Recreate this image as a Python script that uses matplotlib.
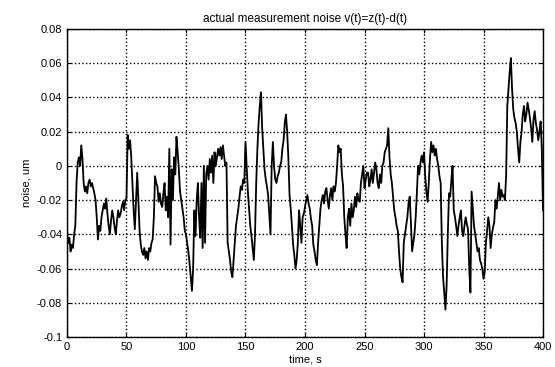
import numpy as np
import matplotlib.pyplot as plt

plt.rcParams['font.family'] = ['Liberation Sans', 'DejaVu Sans']

# noise samples, one per second from 0 to 400 s
noise = [
    -0.038, -0.045, -0.042, -0.050, -0.046, -0.048, -0.040, -0.035, -0.010, 0.002,
    0.005, 0.000, 0.012, 0.004, -0.010, -0.015, -0.012, -0.016, -0.010, -0.008,
    -0.012, -0.010, -0.013, -0.016, -0.020, -0.030, -0.043, -0.035, -0.038, -0.030,
    -0.026, -0.022, -0.025, -0.019, -0.028, -0.035, -0.040, -0.032, -0.026, -0.030,
    -0.036, -0.040, -0.032, -0.026, -0.030, -0.028, -0.024, -0.021, -0.026, -0.020,
    -0.019, 0.018, 0.010, 0.015, 0.005, -0.010, -0.026, -0.037, -0.020, -0.004,
    -0.020, -0.038, -0.046, -0.050, -0.052, -0.048, -0.054, -0.050, -0.055, -0.048,
    -0.050, -0.045, -0.043, -0.030, -0.006, -0.010, -0.012, -0.021, -0.016, -0.022,
    -0.024, -0.016, -0.010, -0.026, -0.018, -0.030, 0.010, -0.046, -0.002, -0.020,
    0.005, -0.005, 0.017, 0.008, -0.002, -0.015, -0.020, -0.025, -0.030, -0.038,
    -0.040, -0.045, -0.050, -0.057, -0.065, -0.073, -0.060, -0.026, -0.041, -0.020,
    -0.010, -0.030, -0.042, -0.010, -0.048, 0.000, -0.045, -0.005, 0.000, -0.008,
    0.004, -0.004, 0.006, -0.010, 0.008, 0.000, 0.005, 0.010, 0.006, 0.011,
    0.004, 0.012, 0.006, 0.000, 0.002, -0.045, -0.050, -0.055, -0.062, -0.065,
    -0.055, -0.045, -0.035, -0.030, -0.025, -0.018, -0.012, -0.014, -0.008, -0.010,
    0.014, 0.000, -0.015, -0.025, -0.035, -0.041, -0.048, -0.055, -0.040, -0.010,
    0.010, 0.025, 0.035, 0.043, 0.022, 0.010, -0.002, -0.008, -0.012, -0.017,
    -0.028, -0.040, 0.000, 0.014, 0.000, -0.008, -0.010, -0.006, -0.004, 0.000,
    0.002, 0.010, 0.015, 0.025, 0.030, 0.020, 0.005, -0.017, -0.025, -0.035,
    -0.046, -0.052, -0.060, -0.055, -0.045, -0.026, -0.035, -0.045, -0.030, -0.028,
    -0.024, -0.020, -0.017, -0.022, -0.025, -0.031, -0.035, -0.046, -0.050, -0.055,
    -0.058, -0.045, -0.035, -0.025, -0.020, -0.017, -0.022, -0.015, -0.013, -0.020,
    -0.025, -0.017, -0.013, -0.020, -0.012, -0.015, -0.010, 0.000, 0.012, 0.008,
    0.010, -0.005, -0.012, -0.030, -0.040, -0.048, -0.030, -0.025, -0.035, -0.022,
    -0.030, -0.026, -0.018, -0.024, -0.016, -0.020, -0.021, -0.010, -0.005, 0.000,
    -0.013, -0.008, -0.004, -0.004, -0.012, -0.008, -0.002, -0.010, -0.004, 0.002,
    -0.002, -0.010, -0.013, -0.005, -0.010, 0.000, 0.002, 0.008, 0.010, 0.012,
    0.022, 0.005, -0.005, -0.010, -0.018, -0.026, -0.030, -0.035, -0.038, -0.050,
    -0.060, -0.065, -0.068, -0.045, -0.040, -0.035, -0.030, -0.022, -0.018, -0.033,
    -0.050, -0.045, -0.040, -0.030, -0.016, 0.000, -0.005, 0.002, 0.006, 0.002,
    0.008, -0.006, -0.015, -0.021, -0.010, 0.004, 0.014, 0.008, 0.012, 0.006,
    0.010, 0.004, 0.000, -0.006, -0.010, -0.045, -0.065, -0.074, -0.084, -0.070,
    -0.040, -0.016, -0.018, -0.008, 0.000, -0.026, -0.030, -0.035, -0.041, -0.035,
    -0.030, -0.026, -0.038, -0.041, -0.035, -0.030, -0.034, -0.037, -0.060, -0.074,
    -0.015, -0.025, -0.035, -0.040, -0.045, -0.050, -0.048, -0.055, -0.057, -0.060,
    -0.066, -0.062, -0.045, -0.038, -0.030, -0.035, -0.048, -0.040, -0.036, -0.033,
    -0.020, -0.025, -0.018, -0.010, -0.020, -0.014, -0.018, -0.017, -0.020, -0.006,
    0.035, 0.045, 0.055, 0.063, 0.045, 0.033, 0.028, 0.025, 0.020, 0.010,
    0.002, 0.014, 0.020, 0.030, 0.035, 0.026, 0.030, 0.037, 0.033, 0.028,
    0.022, 0.014, 0.027, 0.032, 0.025, 0.021, 0.015, 0.020, 0.026, 0.010,
    -0.026,
]
time_s = np.arange(len(noise))      # 1 s sampling

xticks = [0, 50, 100, 150, 200, 250, 300, 350, 400]
yticks = [-0.1, -0.08, -0.06, -0.04, -0.02, 0, 0.02, 0.04, 0.06, 0.08]
ylabels = ['-0.1', '-0.08', '-0.06', '-0.04', '-0.02', '0', '0.02', '0.04', '0.06', '0.08']

fig = plt.figure(figsize=(5.55, 3.67), dpi=100)
fig.set_facecolor('white')
ax = fig.add_axes([0.1207, 0.0817, 0.8577, 0.8393])

ax.plot(time_s, noise, color='black', lw=1.3)

ax.set_xlim(0, 400)
ax.set_ylim(-0.1, 0.08)
ax.set_xticks(xticks)
ax.set_yticks(yticks)
ax.set_yticklabels(ylabels)
ax.tick_params(direction='in', length=3, labelsize=8, top=True, right=True)
ax.grid(True, color='black', linestyle=':', lw=1.0)
for s in ax.spines.values():
    s.set_linewidth(1.0)

ax.set_title('actual measurement noise v(t)=z(t)-d(t)', fontsize=8.5, pad=5)
ax.set_xlabel('time, s', fontsize=8, labelpad=2)
ax.set_ylabel('noise, um', fontsize=8, labelpad=4)

fig.savefig('out.png', dpi=100)
